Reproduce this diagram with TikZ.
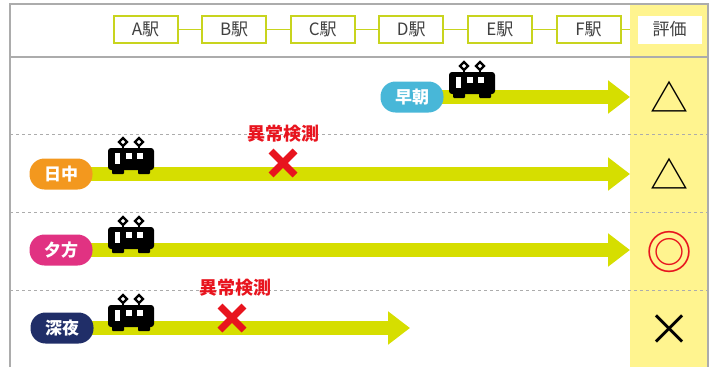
\documentclass[tikz,border=0pt]{standalone}
\usepackage{fontspec}
\newfontfamily\jp{Noto Sans CJK JP}
\usetikzlibrary{arrows.meta, positioning}
\pgfdeclarelayer{back}
\pgfsetlayers{back,main}
\definecolor{lanegreen}{RGB}{214,222,0}
\definecolor{evalyellow}{RGB}{255,244,143}
\definecolor{stationedge}{RGB}{200,212,30}
\definecolor{framegray}{RGB}{172,172,172}
\definecolor{alarmred}{RGB}{232,20,30}
\definecolor{pillblue}{RGB}{72,183,216}
\definecolor{pillorange}{RGB}{243,152,30}
\definecolor{pillpink}{RGB}{225,50,130}
\definecolor{pillnavy}{RGB}{32,46,104}

\begin{document}
\begin{tikzpicture}
    [x=1pt, y=-1pt,
     station/.style={draw=stationedge, line width=2pt, fill=white, minimum width=64pt, minimum height=27pt,
                     inner sep=0pt, text=black!75, font=\jp\fontsize{17}{17}\selectfont},
     evalhead/.style={fill=white, minimum width=64pt, minimum height=28pt, inner sep=0pt,
                      text=black!75, font=\jp\fontsize{17}{17}\selectfont},
     pill/.style={rounded corners=15pt, minimum width=63pt, minimum height=31pt, inner sep=0pt,
                  text=white, font=\jp\bfseries\fontsize{17}{17}\selectfont},
     alarm/.style={text=alarmred, font=\jp\bfseries\fontsize{18}{18}\selectfont, inner sep=0pt},
     evalmark/.style={font=\jp\fontsize{38}{38}\selectfont, inner sep=0pt},
     lane/.style={draw=lanegreen, line width=14pt, -{Triangle[length=22pt, width=32pt]}},
     rowline/.style={draw=framegray, dashed, line width=0.6pt},
     train/.pic={
       \fill[rounded corners=3pt] (-23,-11) rectangle (23,11);
       \fill[rounded corners=1pt] (-19,9) rectangle (-7,15);
       \fill[rounded corners=1pt] (7,9) rectangle (19,15);
       \fill[white] (-16,-6) rectangle (-11,5);
       \fill[white] (-5,-6) rectangle (1,0);
       \fill[white] (6,-6) rectangle (12,0);
       \draw[line width=2.2pt] (-8,-11) -- (-8,-13) (8,-11) -- (8,-13);
       \draw[line width=2.2pt] (-8,-13) -- (-12,-17) -- (-8,-21) -- (-4,-17) -- cycle;
       \draw[line width=2.2pt] (8,-13) -- (4,-17) -- (8,-21) -- (12,-17) -- cycle;
     },
     alarmcross/.pic={
       \draw[alarmred, line width=7pt] (-12,-12) -- (12,12) (-12,12) -- (12,-12);
     }]

    \useasboundingbox (0,0) rectangle (714,367);

    % frame and evaluation column
    \fill[evalyellow] (630,4) rectangle (708,367);
    \draw[framegray, line width=1.2pt] (10,367) -- (10,4) -- (708,4) -- (708,367);
    \draw[framegray, line width=1.2pt] (10,57) -- (708,57);
    \foreach \y in {134,212,290}
      \draw[rowline] (10,\y) -- (708,\y);

    % stations
    \foreach \s [count=\i] in {A,B,C,D,E,F}
      \node[station] (st\s) at (56.9+88.6*\i, 29.5) {\s{}駅};
    \node[evalhead] (hdr) at (669.5,29.5) {評価};
    \begin{pgfonlayer}{back}
      \draw[stationedge, line width=1.8pt] (stA) -- (stB) -- (stC) -- (stD) -- (stE) -- (stF) -- (hdr);
    \end{pgfonlayer}

    % time slots
    \node[pill, fill=pillblue] (early) at (412,97) {早朝};
    \node[pill, fill=pillorange] (day) at (61,174) {日中};
    \node[pill, fill=pillpink] (evening) at (61,250) {夕方};
    \node[pill, fill=pillnavy] (night) at (62,328) {深夜};

    \coordinate (earlyend) at (630,97);
    \coordinate (dayend) at (630,174);
    \coordinate (eveningend) at (630,250);
    \coordinate (nightend) at (410,328);

    \begin{pgfonlayer}{back}
      \draw[lane] (early.center) -- (earlyend);
      \draw[lane] (day.center) -- (dayend);
      \draw[lane] (evening.center) -- (eveningend);
      \draw[lane] (night.center) -- (nightend);
    \end{pgfonlayer}

    \pic at (472,83) {train};
    \pic at (131,159) {train};
    \pic at (131,238) {train};
    \pic at (131,316) {train};

    % detections
    \node[alarm] (dayalarm) at (283,134) {異常検測};
    \pic at (283,163) {alarmcross};
    \node[alarm] (nightalarm) at (235,288) {異常検測};
    \pic at (232,318) {alarmcross};

    % evaluation
    \node[evalmark] (earlyeval) at (669,97) {△};
    \node[evalmark] (dayeval) at (669,174) {△};
    \node[evalmark, text=alarmred, font=\jp\fontsize{46}{46}\selectfont] (eveningeval) at (669,252) {◎};
    \node[evalmark, font=\jp\fontsize{44}{44}\selectfont] (nighteval) at (669,330) {×};
\end{tikzpicture}
\end{document}
